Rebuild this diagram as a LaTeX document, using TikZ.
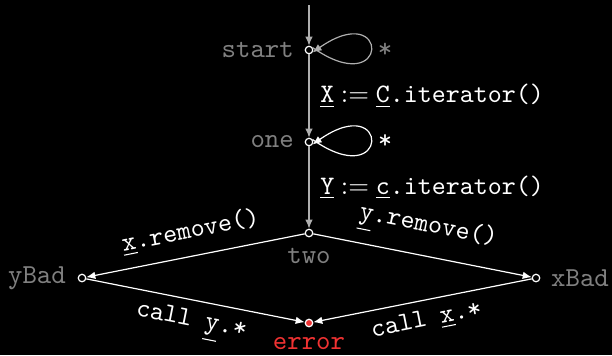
\documentclass[tikz,border=0pt]{standalone}
\usetikzlibrary{arrows.meta}
\definecolor{errred}{RGB}{240,50,50}
\definecolor{namegray}{RGB}{128,128,128}
\definecolor{linegray}{RGB}{175,175,175}
\begin{document}
\begin{tikzpicture}[x=0.375pt,y=-0.375pt,
  every node/.style={font=\ttfamily},
  state/.style={circle,draw=white,fill=black,inner sep=0pt,minimum size=2.8pt,line width=0.45pt},
  errstate/.style={state,fill=errred},
  statename/.style={text=namegray,inner sep=1pt,font=\fontsize{10.3}{12}\ttfamily},
  edgelbl/.style={text=white,inner sep=1.5pt},
  wedge/.style={draw=white,line width=0.45pt,-{Latex[length=3.4pt,width=2.8pt]}},
  gedge/.style={draw=linegray,line width=0.45pt,-{Latex[length=3.4pt,width=2.8pt]}}]
\fill[black] (0,0) rectangle (612,355);
\useasboundingbox (0,0) rectangle (612,355);
% states
\node[state] (start) at (309,50) {};
\node[state] (one) at (309,142) {};
\node[state] (two) at (309,233) {};
\node[state] (ybad) at (82,278) {};
\node[state] (xbad) at (536,278) {};
\node[errstate] (error) at (309,323) {};
\coordinate (init) at (309,5);
% names
\node[statename,anchor=east] (startlbl) at (297,50) {start};
\node[statename,anchor=east] (onelbl) at (297,142) {one};
\node[statename,anchor=north] (twolbl) at (309,245) {two};
\node[statename,anchor=east] (ybadlbl) at (69,278) {yBad};
\node[statename,anchor=west] (xbadlbl) at (548,278) {xBad};
\node[statename,text=errred,anchor=north] (errlbl) at (309,334) {error};
% edges
\draw[gedge] (init) -- (start);
\draw[gedge] (start) -- node[edgelbl,right=2.5pt] {\underline{X}\hspace{2.5pt}$:=$\hspace{2.5pt}\underline{C}.iterator()} (one);
\draw[gedge] (one) -- node[edgelbl,right=2.5pt] {\underline{Y}\hspace{2.5pt}$:=$\hspace{2.5pt}\underline{c}.iterator()} (two);
\draw[gedge] (start.35) .. controls +(35:95) and +(-35:95) .. (start.-35);
\node[statename] (startstar) at (385,50) {*};
\draw[wedge] (one.35) .. controls +(35:95) and +(-35:95) .. (one.-35);
\node[edgelbl] (onestar) at (385,142) {*};
\draw[wedge] (two) -- node[edgelbl,midway,above=3pt,sloped] {\underline{x}.remove()} (ybad);
\draw[wedge] (two) -- node[edgelbl,midway,above=3pt,sloped] {\underline{y}.remove()} (xbad);
\draw[wedge] (ybad) -- node[edgelbl,midway,below=2pt,sloped] {call \underline{y}.*} (error);
\draw[wedge] (xbad) -- node[edgelbl,midway,below=2pt,sloped] {call \underline{x}.*} (error);
\end{tikzpicture}
\end{document}
